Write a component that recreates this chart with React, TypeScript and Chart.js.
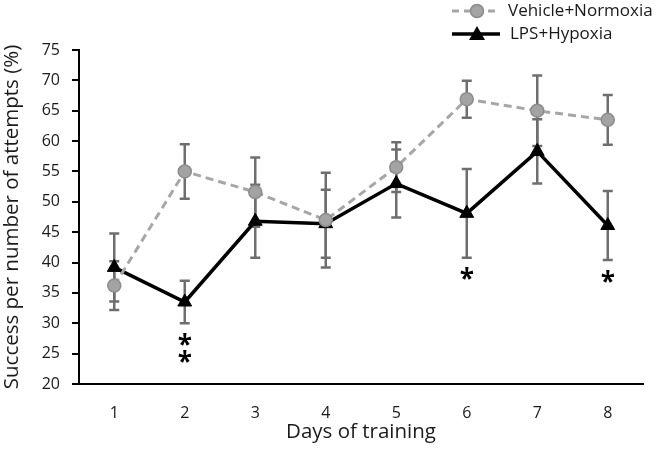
import React, { useEffect, useRef } from "react";
import { Chart, registerables } from "chart.js";

Chart.register(...registerables);

const days = ["1", "2", "3", "4", "5", "6", "7", "8"];
const vehicleMean = [36.2, 55.0, 51.6, 47.0, 55.7, 66.9, 65.0, 63.5];
const vehicleErr = [4.0, 4.5, 5.7, 7.8, 4.1, 3.05, 5.8, 4.1];
const lpsMean = [39.2, 33.5, 46.8, 46.4, 53.0, 48.1, 58.3, 46.1];
const lpsErr = [5.6, 3.5, 6.0, 5.6, 5.6, 7.3, 5.3, 5.7];
const significance = [0, 2, 0, 0, 0, 1, 0, 1];
const seriesNames = ["Vehicle+Normoxia", "LPS+Hypoxia"];
const yTitle = "Success per number of attempts (%)";
const xTitle = "Days of training";

const FONT = "'Open Sans', 'Noto Sans', sans-serif";
const GRAY_LINE = "#a6a6a6";
const GRAY_FILL = "#a3a3a3";
const GRAY_BORDER = "#8c8c8c";
const ERR_COLOR = "#6e6e6e";

const errorBarPlugin = {
  id: "errorBars",
  beforeDatasetsDraw(chart: any) {
    const ctx = chart.ctx;
    const y = chart.scales.y;
    const errs = [vehicleErr, lpsErr];
    ctx.save();
    ctx.strokeStyle = ERR_COLOR;
    ctx.lineWidth = 2.5;
    chart.data.datasets.forEach((ds: any, di: number) => {
      const meta = chart.getDatasetMeta(di);
      meta.data.forEach((pt: any, i: number) => {
        const v = ds.data[i];
        const e = errs[di][i];
        const top = y.getPixelForValue(v + e);
        const bot = y.getPixelForValue(v - e);
        const x = pt.x;
        ctx.beginPath();
        ctx.moveTo(x, top);
        ctx.lineTo(x, bot);
        ctx.moveTo(x - 5, top);
        ctx.lineTo(x + 5, top);
        ctx.moveTo(x - 5, bot);
        ctx.lineTo(x + 5, bot);
        ctx.stroke();
      });
    });
    ctx.restore();
  },
};

const annotationPlugin = {
  id: "annotations",
  afterDatasetsDraw(chart: any) {
    const ctx = chart.ctx;
    const y = chart.scales.y;
    const meta = chart.getDatasetMeta(1);
    ctx.save();
    ctx.fillStyle = "#000";
    ctx.font = `bold 26px ${FONT}`;
    ctx.textAlign = "center";
    ctx.textBaseline = "alphabetic";
    const m = ctx.measureText("*");
    const asc = m.actualBoundingBoxAscent;
    const desc = m.actualBoundingBoxDescent;
    significance.forEach((n, i) => {
      if (!n) return;
      const x = meta.data[i].x;
      const bot = y.getPixelForValue(lpsMean[i] - lpsErr[i]);
      for (let k = 0; k < n; k++) {
        const cy = bot + 16 + k * 17;
        ctx.fillText("*", x, cy + (asc - desc) / 2);
      }
    });
    ctx.restore();

    // legend
    ctx.save();
    const rows = [
      { y: 11, dash: [7, 5], color: GRAY_LINE, width: 3 },
      { y: 34, dash: [], color: "#000", width: 3.5 },
    ];
    rows.forEach((r, i) => {
      ctx.beginPath();
      ctx.setLineDash(r.dash);
      ctx.strokeStyle = r.color;
      ctx.lineWidth = r.width;
      ctx.moveTo(452, r.y);
      ctx.lineTo(500, r.y);
      ctx.stroke();
      ctx.setLineDash([]);
      if (i === 0) {
        ctx.beginPath();
        ctx.arc(477, r.y, 6.5, 0, Math.PI * 2);
        ctx.fillStyle = GRAY_FILL;
        ctx.fill();
        ctx.strokeStyle = GRAY_BORDER;
        ctx.lineWidth = 1.5;
        ctx.stroke();
      } else {
        ctx.beginPath();
        ctx.moveTo(477, r.y - 8);
        ctx.lineTo(485, r.y + 6);
        ctx.lineTo(469, r.y + 6);
        ctx.closePath();
        ctx.fillStyle = "#000";
        ctx.fill();
      }
      ctx.fillStyle = "#1a1a1a";
      ctx.font = `17px ${FONT}`;
      ctx.textAlign = "left";
      ctx.textBaseline = "middle";
      ctx.fillText(seriesNames[i], i === 0 ? 508 : 510, r.y);
    });
    ctx.restore();
  },
};

export default function App() {
  const ref = useRef<HTMLCanvasElement>(null);
  useEffect(() => {
    if (!ref.current) return;
    const chart = new Chart(ref.current, {
      type: "line",
      data: {
        labels: days,
        datasets: [
          {
            label: seriesNames[0],
            data: vehicleMean,
            borderColor: GRAY_LINE,
            borderWidth: 3,
            borderDash: [8, 5],
            pointStyle: "circle",
            pointRadius: 6.5,
            pointBackgroundColor: GRAY_FILL,
            pointBorderColor: GRAY_BORDER,
            pointBorderWidth: 1.5,
            tension: 0,
          },
          {
            label: seriesNames[1],
            data: lpsMean,
            borderColor: "#000",
            borderWidth: 3.5,
            pointStyle: "triangle",
            pointRadius: 8,
            pointBackgroundColor: "#000",
            pointBorderColor: "#000",
            pointBorderWidth: 1,
            tension: 0,
          },
        ],
      },
      options: {
        animation: false,
        responsive: false,
        layout: { padding: { top: 50, right: 14, left: 0, bottom: 0 } },
        plugins: {
          legend: { display: false },
          tooltip: { enabled: false },
        },
        scales: {
          x: {
            offset: true,
            grid: { display: false, drawTicks: false },
            border: { display: true, color: "#000", width: 2 },
            ticks: {
              color: "#1a1a1a",
              font: { family: FONT, size: 16 },
              padding: 20,
            },
            title: {
              display: true,
              text: xTitle,
              color: "#1a1a1a",
              font: { family: FONT, size: 20.5 },
              padding: { top: 0, bottom: 6.5 },
            },
            afterFit(scale: any) {
              scale.height = 67;
            },
          },
          y: {
            min: 20,
            max: 75,
            ticks: {
              stepSize: 5,
              color: "#1a1a1a",
              font: { family: FONT, size: 16 },
              padding: 12,
            },
            grid: {
              drawOnChartArea: false,
              drawTicks: true,
              tickLength: 7,
              color: "#000",
              lineWidth: 2,
            },
            border: { display: true, color: "#000", width: 2 },
            title: {
              display: true,
              text: yTitle,
              color: "#1a1a1a",
              font: { family: FONT, size: 20.5 },
              padding: { top: 0, bottom: 0 },
            },
            afterFit(scale: any) {
              scale.width = 79;
            },
          },
        },
      },
      plugins: [errorBarPlugin, annotationPlugin],
    });
    return () => chart.destroy();
  }, []);
  return (
    <div style={{ position: "fixed", left: 0, top: 0, width: 657, height: 451, background: "#fff" }}>
      <canvas ref={ref} width={657} height={451} />
    </div>
  );
}
